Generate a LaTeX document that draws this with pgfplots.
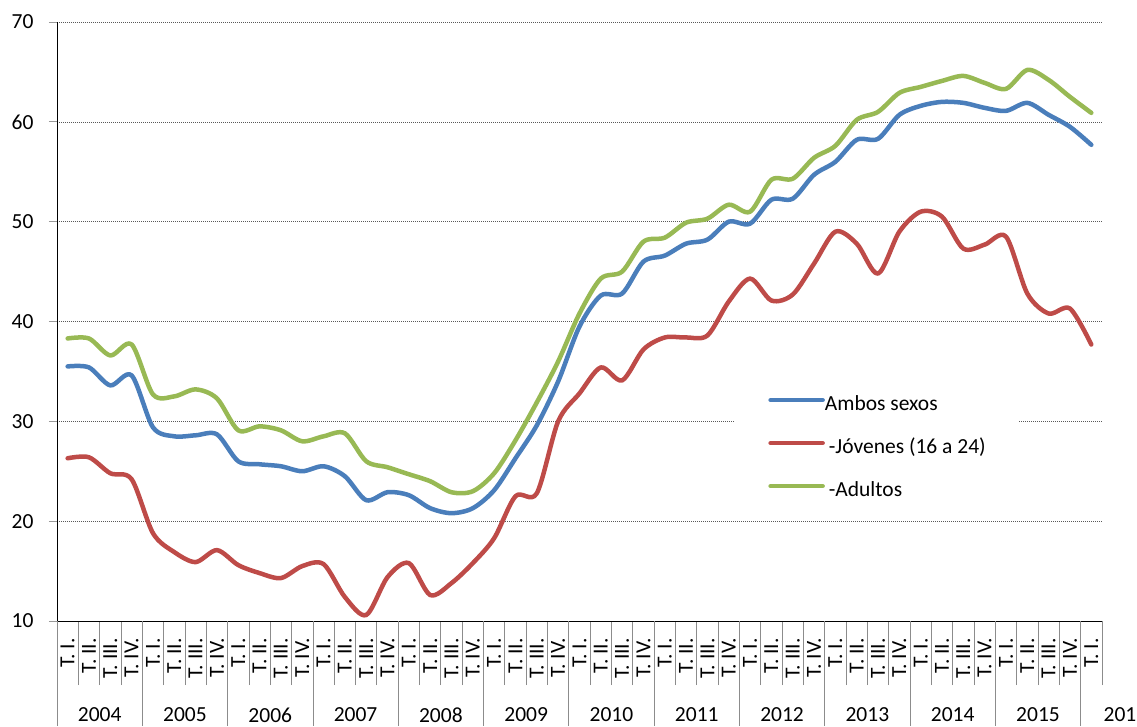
\documentclass[border=0pt]{standalone}
\usepackage{pgfplots}
\pgfplotsset{compat=1.18}
\usepackage{fontspec}
\setmainfont{Carlito}
\definecolor{cblue}{RGB}{74,126,187}
\definecolor{cred}{RGB}{190,75,72}
\definecolor{cgreen}{RGB}{152,185,84}
\newcommand{\lf}{\fontsize{21.5}{26}\selectfont}
\pgfplotstableread{
i ambos jov adul
0 35.5 26.3 38.3
1 35.4 26.4 38.3
2 33.6 24.8 36.6
3 34.6 24.2 37.7
4 29.4 18.8 32.7
5 28.5 16.9 32.5
6 28.6 15.9 33.2
7 28.7 17.1 32.3
8 26.0 15.6 29.1
9 25.7 14.8 29.5
10 25.5 14.3 29.1
11 25.0 15.5 28.0
12 25.5 15.7 28.5
13 24.5 12.4 28.8
14 22.1 10.6 26.0
15 22.9 14.4 25.4
16 22.6 15.8 24.7
17 21.3 12.6 24.0
18 20.8 13.8 22.9
19 21.3 15.8 23.0
20 23.1 18.3 24.8
21 26.3 22.5 28.1
22 29.6 22.8 31.9
23 34.0 30.0 36.0
24 39.5 32.8 40.8
25 42.6 35.4 44.3
26 42.8 34.1 45.0
27 46.0 37.2 48.0
28 46.6 38.4 48.4
29 47.8 38.4 49.9
30 48.2 38.6 50.3
31 50.0 42.0 51.7
32 49.8 44.3 51.0
33 52.2 42.1 54.2
34 52.3 42.7 54.3
35 54.7 45.8 56.4
36 56.0 49.0 57.6
37 58.2 47.8 60.2
38 58.3 44.8 61.0
39 60.7 49.0 62.9
40 61.6 51.0 63.5
41 62.0 50.5 64.1
42 61.9 47.3 64.6
43 61.4 47.7 63.9
44 61.1 48.5 63.3
45 61.9 42.8 65.2
46 60.7 40.8 64.2
47 59.5 41.3 62.5
48 57.7 37.7 60.9
}\datatable
\begin{document}
\begin{tikzpicture}
\useasboundingbox (-57pt,-105pt) rectangle (1080pt,621pt);
\begin{axis}[
  at={(0pt,0pt)}, anchor=south west,
  scale only axis, width=1045pt, height=599pt,
  xmin=-0.5, xmax=48.5, ymin=10, ymax=70,
  axis x line*=bottom, axis y line*=left,
  axis line style={black, line width=0.8pt},
  tick align=outside,
  ytick={10,20,...,70},
  ymajorgrids,
  grid style={black!65, line width=0.6pt, dash pattern=on 1pt off 1pt},
  major tick length=8pt,
  ytick style={black!40, line width=1pt},
  xtick={0,...,48},
  xticklabels={T. I.,T. II.,T. III.,T. IV.,T. I.,T. II.,T. III.,T. IV.,T. I.,T. II.,T. III.,T. IV.,T. I.,T. II.,T. III.,T. IV.,T. I.,T. II.,T. III.,T. IV.,T. I.,T. II.,T. III.,T. IV.,T. I.,T. II.,T. III.,T. IV.,T. I.,T. II.,T. III.,T. IV.,T. I.,T. II.,T. III.,T. IV.,T. I.,T. II.,T. III.,T. IV.,T. I.,T. II.,T. III.,T. IV.,T. I.,T. II.,T. III.,T. IV.,T. I.},
  major x tick style={draw=none},
  minor xtick={-0.5,0.5,...,48.5},
  minor tick length=64pt,
  minor x tick style={black!45, line width=0.8pt},
  xticklabel style={font=\lf, inner sep=0pt, yshift=-9pt, rotate=90, anchor=east},
  yticklabel style={font=\lf, xshift=-12pt},
  /pgf/number format/assume math mode=true,
  clip=false,
  legend style={at={(rel axis cs:0.649,0.394)}, anchor=north west, draw=none, fill=white,
    inner xsep=33pt, inner ysep=10pt, font=\lf, row sep=23pt,
    nodes={inner sep=0pt, text height=15pt, text depth=5pt},
    /tikz/every even column/.append style={column sep=3pt}},
  legend cell align=left,
  legend image code/.code={\draw[#1, line width=4.5pt, line cap=round] (0pt,5pt) -- (52pt,5pt);},
  every axis plot/.append style={line width=4.5pt, line cap=round, line join=round, smooth, tension=0.5},
]
\addplot[cblue] table[x=i, y=ambos] {\datatable};
\addlegendentry{Ambos sexos}
\addplot[cred] table[x=i, y=jov] {\datatable};
\addlegendentry{\hspace{4pt}-Jóvenes (16 a 24)}
\addplot[cgreen] table[x=i, y=adul] {\datatable};
\addlegendentry{\hspace{4pt}-Adultos}
\pgfplotsinvokeforeach{-0.5,3.5,7.5,11.5,15.5,19.5,23.5,27.5,31.5,35.5,39.5,43.5,47.5}{
  \draw[black!45, line width=0.8pt] (axis cs:#1,10) -- ++(0pt,-105pt);
}
\node[font=\lf, yshift=-94pt] at (axis cs:1.5,10) {2004};
\node[font=\lf, yshift=-94pt] at (axis cs:5.5,10) {2005};
\node[font=\lf, yshift=-94pt] at (axis cs:9.5,10) {2006};
\node[font=\lf, yshift=-94pt] at (axis cs:13.5,10) {2007};
\node[font=\lf, yshift=-94pt] at (axis cs:17.5,10) {2008};
\node[font=\lf, yshift=-94pt] at (axis cs:21.5,10) {2009};
\node[font=\lf, yshift=-94pt] at (axis cs:25.5,10) {2010};
\node[font=\lf, yshift=-94pt] at (axis cs:29.5,10) {2011};
\node[font=\lf, yshift=-94pt] at (axis cs:33.5,10) {2012};
\node[font=\lf, yshift=-94pt] at (axis cs:37.5,10) {2013};
\node[font=\lf, yshift=-94pt] at (axis cs:41.5,10) {2014};
\node[font=\lf, yshift=-94pt] at (axis cs:45.5,10) {2015};
\node[font=\lf, yshift=-94pt, anchor=west, inner sep=0pt, xshift=1.5pt] at (axis cs:48.5,10) {201};
\end{axis}
\end{tikzpicture}
\end{document}
